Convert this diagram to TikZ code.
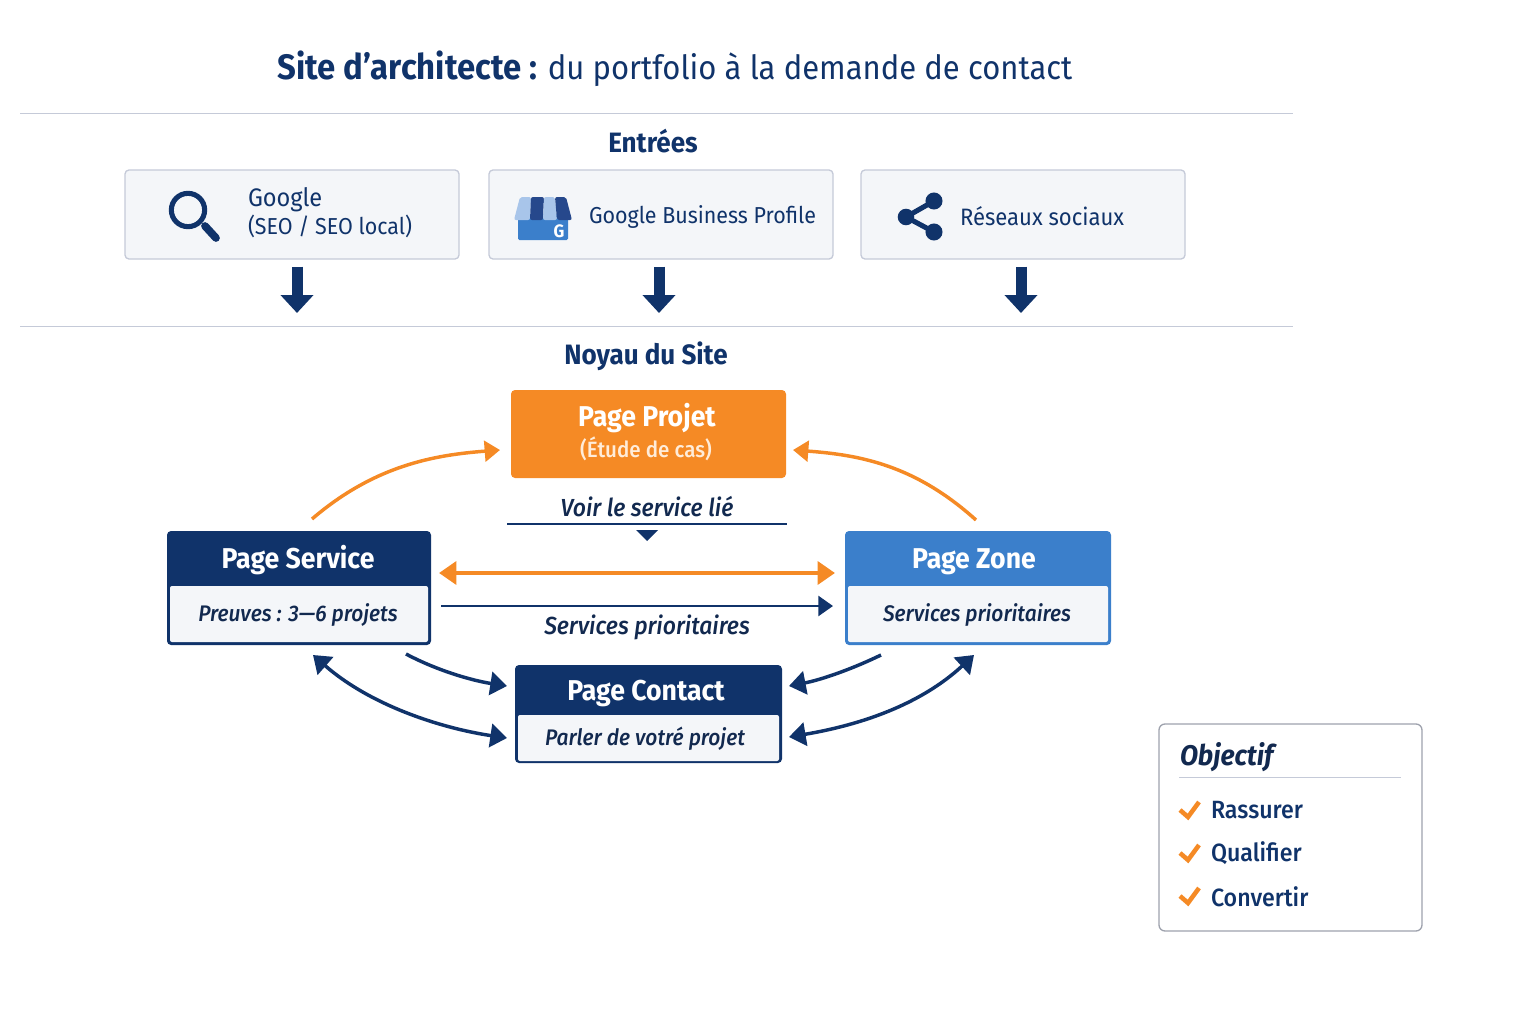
\documentclass[tikz,border=0pt]{standalone}
\usepackage{fontspec}
\setmainfont{Fira Sans}[FakeStretch=0.93]
\newfontfamily\medfont{Fira Sans Medium}[FakeStretch=0.93,ItalicFont={Fira Sans Medium Italic}]
\usepackage{xcolor}
\usetikzlibrary{calc,arrows.meta}
\definecolor{navy}{HTML}{10336A}
\definecolor{inknavy}{HTML}{12294F}
\definecolor{orangeA}{HTML}{F58A25}
\definecolor{blueA}{HTML}{3B7FCB}
\definecolor{lightblueA}{HTML}{A8C5EA}
\definecolor{darkblueA}{HTML}{26488C}
\definecolor{paleA}{HTML}{F4F6F9}
\definecolor{ruleA}{HTML}{C5CAD8}
\newcommand{\fs}[1]{\fontsize{#1}{#1}\selectfont}
\tikzset{
    txt/.style={text=navy,inner sep=0pt,outer sep=0pt,align=center},
    entree/.style={draw=ruleA,line width=1pt,fill=paleA,rounded corners=3pt,minimum height=66.75pt,inner sep=0pt},
    entreetxt/.style={txt,align=left,font=\fs{17.3}},
    section/.style={txt,font=\fs{21}\bfseries},
    outer/.style={rounded corners=3pt,inner sep=0pt,outer sep=0pt},
    inner/.style={fill=paleA,rounded corners=1.5pt,inner sep=0pt,outer sep=0pt},
    headtxt/.style={txt,text=white,font=\fs{21.5}\bfseries,anchor=base},
    bodytxt/.style={txt,text=inknavy,font=\medfont\fs{16.9}\itshape,anchor=base},
    linktxt/.style={txt,text=inknavy,font=\medfont\fs{18.5}\itshape,anchor=base},
    downarrow/.style={navy,line width=8.25pt,-{Triangle[length=13.5pt,width=24pt]}},
    orangecurve/.style={orangeA,line width=2.6pt,-{Triangle[length=11.5pt,width=15.5pt]}},
    navycurve/.style={navy,line width=2.6pt,-{Triangle[length=12.5pt,width=17.5pt]}},
    navyboth/.style={navy,line width=2.6pt,{Triangle[length=12.5pt,width=17.5pt]}-{Triangle[length=12.5pt,width=17.5pt]}},
    checkmark/.style={orangeA,line width=3.4pt,line join=miter},
    goal/.style={txt,font=\medfont\fs{18.7},anchor=west}
}
\begin{document}
\begin{tikzpicture}[x=0.75pt,y=-0.75pt]
    \useasboundingbox (0,0) rectangle (1536,1024);

    % Title and rules
    \node[txt,font=\fs{25}] (title) at (675,69) {{\fs{26.5}\textbf{Site d’architecte :}} du portfolio à la demande de contact};
    \coordinate (ruleAL) at (20,113.5);
    \coordinate (ruleAR) at (1293,113.5);
    \coordinate (ruleBL) at (20,326.5);
    \coordinate (ruleBR) at (1293,326.5);
    \draw[ruleA,line width=1pt] (ruleAL)--(ruleAR);
    \draw[ruleA,line width=1pt] (ruleBL)--(ruleBR);

    % Entries
    \node[section] (entrees) at (653,141) {Entrées};
    \node[entree,minimum width=250.5pt] (google) at (292,214.5) {};
    \node[entree,minimum width=258pt] (gbp) at (661,214.5) {};
    \node[entree,minimum width=243pt] (social) at (1023,214.5) {};
    \node[entreetxt,anchor=west] (googletxt) at (248,212.5) {{\fs{19}Google}\\[1.5pt](SEO / SEO local)};
    \node[entreetxt,anchor=west] (gbptxt) at (589,216.5) {Google Business Profile};
    \node[entreetxt,anchor=west,font=\fs{17.8}] (socialtxt) at (960,216.5) {Réseaux sociaux};

    % Search icon
    \draw[navy,line width=3.8pt] (188,210) circle (12.5pt);
    \draw[navy,line width=5.8pt,line cap=round] (205,226)--(216,238);

    % Shop icon
    \fill[blueA,rounded corners=1pt] (518,214) rectangle (568,240);
    \fill[lightblueA,rounded corners=1.5pt] (520,197)--(531,197)--(530,220)--(514,220)--cycle;
    \fill[darkblueA,rounded corners=1.5pt] (531,197)--(544,197)--(543,220)--(530,220)--cycle;
    \fill[lightblueA,rounded corners=1.5pt] (544,197)--(555,197)--(557,220)--(543,220)--cycle;
    \fill[darkblueA,rounded corners=1.5pt] (555,197)--(566,197)--(572,220)--(557,220)--cycle;
    \node[txt,text=white,font=\fs{13.5}\bfseries] (shopG) at (559,231) {G};

    % Share icon
    \draw[navy,line width=3.8pt] (934,201)--(906,217)--(934,232);
    \fill[navy] (906,217) circle (6.2pt);
    \fill[navy] (934,201) circle (6.4pt);
    \fill[navy] (934,232) circle (6.4pt);

    % Arrows below the entries
    \coordinate (arrowA) at (297,313);
    \coordinate (arrowB) at (659,313);
    \coordinate (arrowC) at (1021,313);
    \draw[downarrow] ($(google.south)+(5,7)$)--(arrowA);
    \draw[downarrow] ($(gbp.south)+(-2,7)$)--(arrowB);
    \draw[downarrow] ($(social.south)+(-2,7)$)--(arrowC);

    % Core of the site
    \node[section] (noyau) at (646,356) {Noyau du Site};

    \node[outer,fill=orangeA,minimum width=206.25pt,minimum height=66pt] (projet) at (648.5,434) {};
    \node[headtxt] (projethead) at (647,426) {Page Projet};
    \node[txt,text=white!85!orange,font=\medfont\fs{16.6},anchor=base] (projetbody) at (646,457) {(Étude de cas)};

    \node[outer,fill=navy,minimum width=198pt,minimum height=85.5pt] (service) at (299,588) {};
    \node[inner,minimum width=193.5pt,minimum height=42pt] (servicebody) at (299,614) {};
    \node[headtxt] (servicehead) at (298,568) {Page Service};
    \node[bodytxt] (servicetxt) at (298,621) {Preuves : 3—6 projets};

    \node[outer,fill=blueA,minimum width=199.5pt,minimum height=85.5pt] (zone) at (978,588) {};
    \node[inner,minimum width=195pt,minimum height=42pt] (zonebody) at (978,614) {};
    \node[headtxt] (zonehead) at (974,568) {Page Zone};
    \node[bodytxt] (zonetxt) at (977,621) {Services prioritaires};

    \node[outer,fill=navy,minimum width=200.25pt,minimum height=73.5pt] (contact) at (648.5,714) {};
    \node[inner,minimum width=195.75pt,minimum height=34.5pt] (contactbody) at (648.5,738) {};
    \node[headtxt] (contacthead) at (646,700) {Page Contact};
    \node[bodytxt] (contacttxt) at (645,745) {Parler de votré projet};

    % Link labels
    \node[linktxt] (voir) at (647,516) {Voir le service lié};
    \coordinate (voirL) at (507,524);
    \coordinate (voirR) at (787,524);
    \draw[navy,line width=1.2pt] (voirL)--(voirR);
    \fill[navy] (636,530)--(658,530)--(647,541)--cycle;
    \node[linktxt] (prio) at (647,634) {Services prioritaires};

    % Links between pages
    \draw[orangecurve] ($(service.north)+(13,-12)$) .. controls (375,465) and (435,455) .. ($(projet.west)+(-11,16)$);
    \draw[orangecurve] ($(zone.north)+(-2,-11)$) .. controls (915,465) and (860,455) .. ($(projet.east)+(7,16)$);
    \draw[orangeA,line width=3.4pt,{Triangle[length=13pt,width=17pt]}-{Triangle[length=13pt,width=17pt]}] ($(service.east)+(8,-15)$)--($(zone.west)+(-10,-15)$);
    \draw[navy,line width=1.9pt,-{Triangle[length=11pt,width=15pt]}] ($(service.east)+(10,18)$)--($(zone.west)+(-12,18)$);
    \draw[navycurve] ($(service.south)+(107,9)$) .. controls (440,672) and (475,681) .. ($(contact.west)+(-8,-28)$);
    \draw[navyboth] ($(service.south)+(14,10)$) .. controls (370,705) and (440,728) .. ($(contact.west)+(-8,24)$);
    \draw[navycurve] ($(zone.south)+(-97,10)$) .. controls (850,670) and (820,680) .. ($(contact.east)+(7,-28)$);
    \draw[navyboth] ($(zone.south)+(-4,10)$) .. controls (920,705) and (860,725) .. ($(contact.east)+(7,23)$);

    % Objective box
    \node[draw=black!20!ruleA,line width=1pt,fill=white,rounded corners=4.5pt,minimum width=197.25pt,minimum height=155.25pt,inner sep=0pt] (objectif) at (1290.5,827.5) {};
    \node[txt,font=\fs{21.3}\bfseries\itshape,text=inknavy,anchor=west] (objectiftxt) at (1180,757) {Objectif};
    \coordinate (objL) at (1179,777.5);
    \coordinate (objR) at (1401,777.5);
    \draw[ruleA,line width=1pt] (objL)--(objR);
    \node[goal] (rassurer) at (1211,810) {Rassurer};
    \node[goal] (qualifier) at (1211,853) {Qualifier};
    \node[goal] (convertir) at (1211,897) {Convertir};
    \foreach \y in {810,853,896}
        \draw[checkmark] (1180,\y)--(1188,{\y+7})--(1199,{\y-8});
\end{tikzpicture}
\end{document}
